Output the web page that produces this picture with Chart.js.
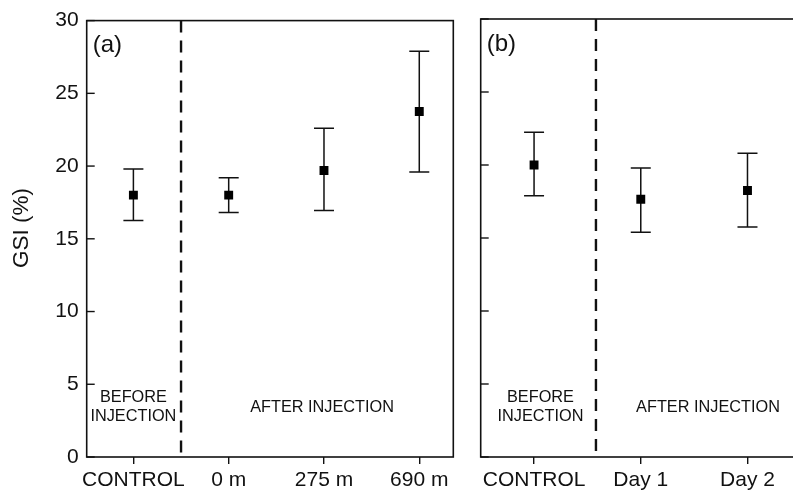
<!DOCTYPE html>
<html>
<head>
<meta charset="utf-8">
<script src="https://cdn.jsdelivr.net/npm/chart.js@4.4.1/dist/chart.umd.min.js"></script>
<style>
  html, body { margin: 0; padding: 0; background: #fff; overflow: hidden; }
  #wrap { position: relative; width: 793px; height: 492px; overflow: hidden; }
  #chartA { position: absolute; left: 0; top: 0; }
  #chartB { position: absolute; left: 462px; top: 0; }
</style>
</head>
<body>
<div id="wrap">
  <canvas id="chartA" width="462" height="492"></canvas>
  <canvas id="chartB" width="345" height="492"></canvas>
</div>
<script>
// ===== Data =====
// panel (a): distance from injection
const sitesA = ['CONTROL', '0 m', '275 m', '690 m'];
const meanA = [18.0, 18.0, 19.7, 23.75];
const lowA = [16.25, 16.8, 16.95, 19.6];
const highA = [19.8, 19.2, 22.6, 27.9];

// panel (b): days after injection
const daysB = ['CONTROL', 'Day 1', 'Day 2'];
const meanB = [20.0, 17.65, 18.25];
const lowB = [17.9, 15.4, 15.75];
const highB = [22.25, 19.8, 20.8];

const yTicks = [0, 5, 10, 15, 20, 25, 30];

const FONT = "'Liberation Sans', Arial, Helvetica, sans-serif";
const INK = '#111';

// ===== Drawing helpers (frame, inward y ticks, error bars, divider, notes) =====
const panelDecor = {
  id: 'panelDecor',
  beforeDatasetsDraw(chart, args, o) {
    const { ctx, chartArea: a, scales: { x, y } } = chart;
    ctx.save();

    // frame
    ctx.strokeStyle = INK;
    ctx.lineWidth = 1.6;
    ctx.strokeRect(a.left, a.top, a.right - a.left, a.bottom - a.top);

    // inward y ticks
    ctx.lineWidth = 1.4;
    yTicks.forEach(v => {
      const py = y.getPixelForValue(v);
      ctx.beginPath();
      ctx.moveTo(a.left, py);
      ctx.lineTo(a.left + 8, py);
      ctx.stroke();
    });

    // dashed divider before/after
    ctx.lineWidth = 2.4;
    ctx.setLineDash([12, 8]);
    const dx = x.getPixelForValue(o.divider);
    ctx.beginPath();
    ctx.moveTo(dx, a.top);
    ctx.lineTo(dx, a.bottom);
    ctx.stroke();
    ctx.setLineDash([]);

    // error bars
    ctx.lineWidth = 1.5;
    o.low.forEach((lo, i) => {
      const px = x.getPixelForValue(i);
      const pLo = y.getPixelForValue(lo);
      const pHi = y.getPixelForValue(o.high[i]);
      ctx.beginPath();
      ctx.moveTo(px, pLo); ctx.lineTo(px, pHi);
      ctx.moveTo(px - 10, pLo); ctx.lineTo(px + 10, pLo);
      ctx.moveTo(px - 10, pHi); ctx.lineTo(px + 10, pHi);
      ctx.stroke();
    });

    // text notes
    ctx.fillStyle = INK;
    ctx.textBaseline = 'middle';
    ctx.font = '24px ' + FONT;
    ctx.textAlign = 'left';
    ctx.fillText(o.tag, a.left + 6, a.top + 25);

    ctx.font = '16.3px ' + FONT;
    ctx.textAlign = 'center';
    o.notes.forEach(n => {
      ctx.fillText(n.text, x.getPixelForValue(n.x), y.getPixelForValue(n.y));
    });

    if (o.yTitle) {
      ctx.font = '22.5px ' + FONT;
      ctx.translate(22, 228);
      ctx.rotate(-Math.PI / 2);
      ctx.fillText(o.yTitle, 0, 0);
    }
    ctx.restore();
  }
};

function makePanel(id, labels, mean, low, high, cfg) {
  const ctx = document.getElementById(id).getContext('2d');
  return new Chart(ctx, {
    type: 'scatter',
    data: {
      datasets: [{
        data: mean.map((v, i) => ({ x: i, y: v })),
        pointStyle: 'rect',
        pointRadius: 6.3,
        backgroundColor: '#000',
        borderWidth: 0
      }]
    },
    options: {
      responsive: false,
      animation: false,
      events: [],
      layout: { padding: { top: 19, right: cfg.padRight, left: 0, bottom: 0 } },
      plugins: {
        legend: { display: false },
        tooltip: { enabled: false },
        panelDecor: {
          divider: cfg.divider,
          low: low,
          high: high,
          tag: cfg.tag,
          notes: cfg.notes,
          yTitle: cfg.yTitle
        }
      },
      scales: {
        x: {
          type: 'linear',
          min: cfg.xMin,
          max: cfg.xMax,
          afterBuildTicks: s => { s.ticks = labels.map((_, i) => ({ value: i })); },
          afterFit: s => { s.height = 35; },
          ticks: {
            callback: v => labels[v],
            color: INK,
            font: { family: FONT, size: 21 },
            padding: 4,
            maxRotation: 0,
            autoSkip: false
          },
          grid: { display: true, drawOnChartArea: false, drawTicks: true, tickLength: 7, color: INK, lineWidth: 1.4 },
          border: { display: false }
        },
        y: {
          min: 0,
          max: 30,
          afterBuildTicks: s => { s.ticks = yTicks.map(v => ({ value: v })); },
          afterFit: s => { s.width = cfg.yWidth; },
          ticks: {
            display: cfg.yLabels,
            color: INK,
            font: { family: FONT, size: 21 },
            padding: 8
          },
          grid: { display: false, drawTicks: false },
          border: { display: false }
        }
      }
    },
    plugins: [panelDecor]
  });
}

makePanel('chartA', sitesA, meanA, lowA, highA, {
  xMin: -0.49, xMax: 3.357, yWidth: 86.7, padRight: 8.7, yLabels: true,
  divider: 0.5, tag: '(a)', yTitle: 'GSI (%)',
  notes: [
    { text: 'BEFORE', x: 0, y: 4.09 },
    { text: 'INJECTION', x: 0, y: 2.76 },
    { text: 'AFTER INJECTION', x: 1.98, y: 3.42 }
  ]
});

makePanel('chartB', daysB, meanB, lowB, highB, {
  xMin: -0.5, xMax: 2.464, yWidth: 18.7, padRight: 10, yLabels: false,
  divider: 0.58, tag: '(b)', yTitle: null,
  notes: [
    { text: 'BEFORE', x: 0.06, y: 4.09 },
    { text: 'INJECTION', x: 0.06, y: 2.76 },
    { text: 'AFTER INJECTION', x: 1.63, y: 3.42 }
  ]
});
</script>
</body>
</html>
